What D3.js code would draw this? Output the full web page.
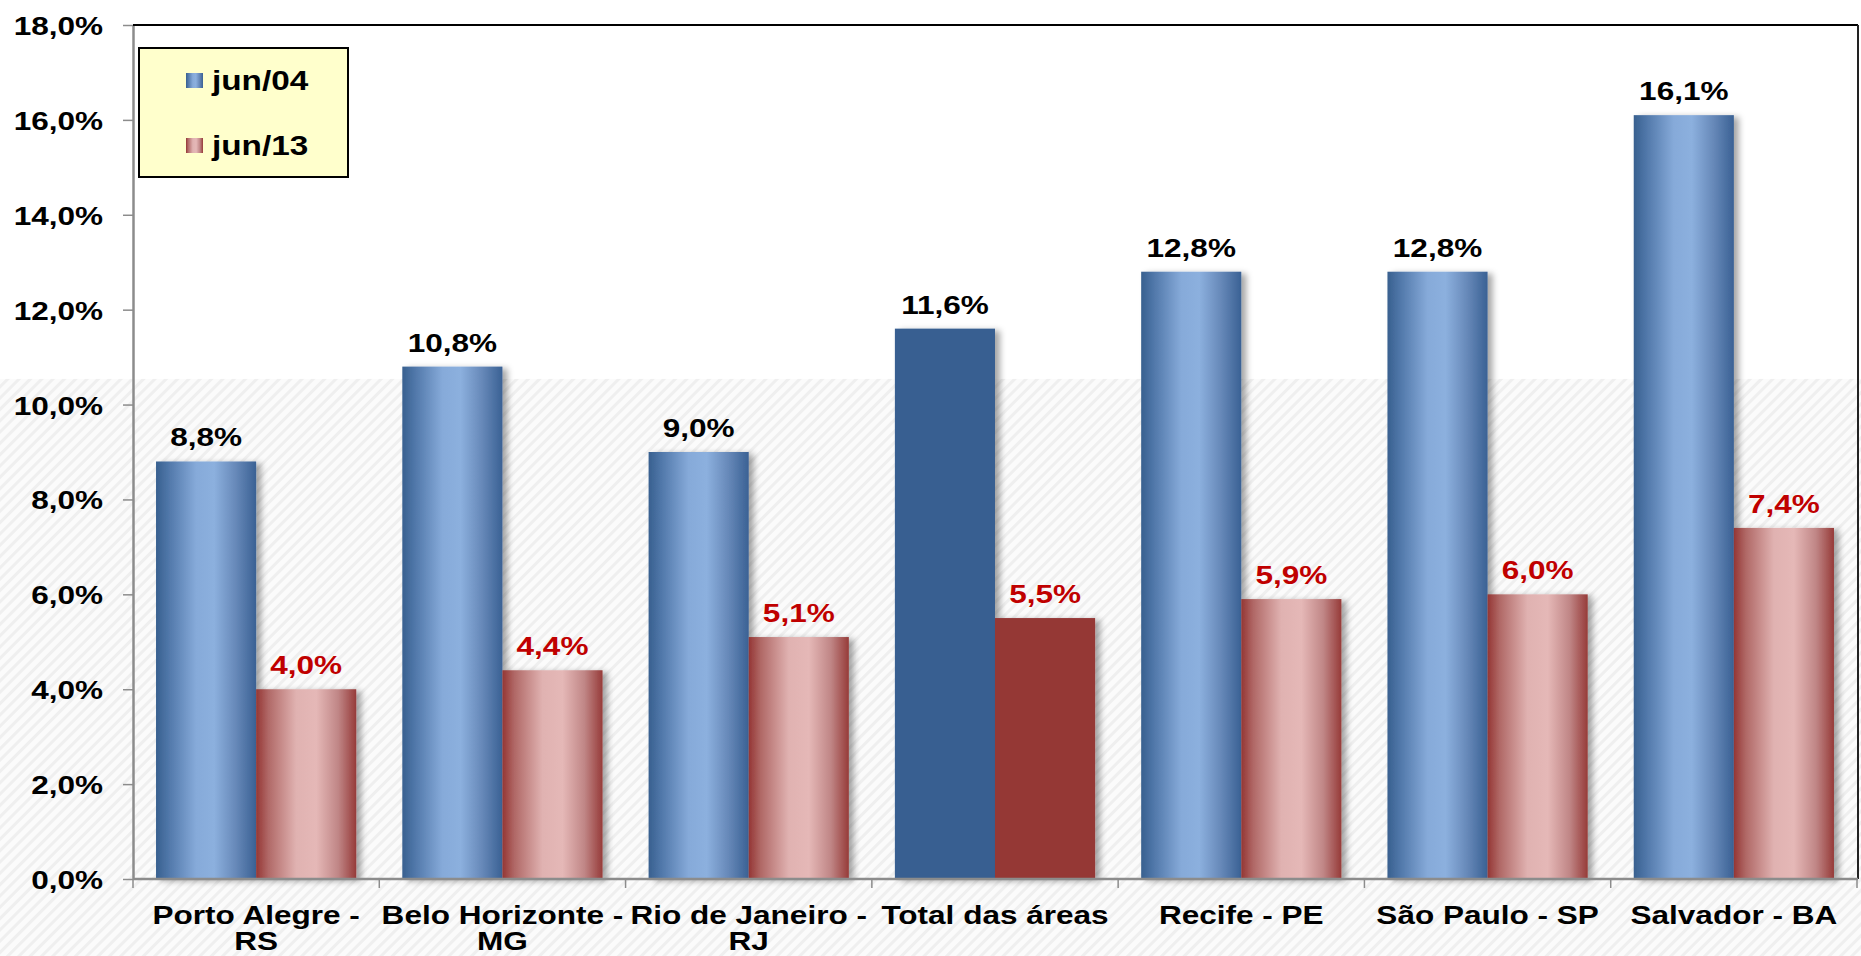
<!DOCTYPE html>
<html>
<head>
<meta charset="utf-8">
<script src="https://cdn.jsdelivr.net/npm/d3@7"></script>
<style>
  html, body { margin: 0; padding: 0; background: #fff; }
  svg { display: block; }
  text { font-family: "Liberation Sans", Arial, sans-serif; font-weight: bold; }
</style>
</head>
<body>
<svg id="chart" width="1861" height="956"></svg>
<script>
// ---- data ----
const categories = ["Porto Alegre - RS", "Belo Horizonte - MG", "Rio de Janeiro - RJ", "Total das áreas", "Recife - PE", "São Paulo - SP", "Salvador - BA"];
const seriesNames = ["jun/04", "jun/13"];
const jun04 = [8.8, 10.8, 9.0, 11.6, 12.8, 12.8, 16.1];
const jun13 = [4.0, 4.4, 5.1, 5.5, 5.9, 6.0, 7.4];
const highlighted = ["Total das áreas"];
const yTicks = [0, 2, 4, 6, 8, 10, 12, 14, 16, 18];

// ---- layout ----
const W = 1861, H = 956;
const mLeft = 133, mRight = 1857, mTop = 25, mBottom = 879;
const stretch = 1.19;
const fontSize = 26.5;

const svg = d3.select("#chart");
const defs = svg.append("defs");

// gradients
function hGrad(id, stops) {
  const g = defs.append("linearGradient").attr("id", id)
    .attr("x1", "0%").attr("x2", "100%").attr("y1", "0%").attr("y2", "0%");
  stops.forEach(([o, c]) => g.append("stop").attr("offset", o).attr("stop-color", c));
}
hGrad("gBlue", [["0%", "#38608f"], ["12%", "#4f76a8"], ["40%", "#86aad9"], ["58%", "#8cb0de"], ["80%", "#6688b8"], ["100%", "#3a6194"]]);
hGrad("gRed", [["0%", "#943634"], ["12%", "#b06866"], ["40%", "#e0b2b1"], ["60%", "#e5b8b7"], ["82%", "#c08686"], ["100%", "#963b39"]]);

// hatch pattern
const pat = defs.append("pattern").attr("id", "hatch")
  .attr("patternUnits", "userSpaceOnUse").attr("width", 8).attr("height", 8)
  .attr("patternTransform", "rotate(45)");
pat.append("rect").attr("width", 8).attr("height", 8).attr("fill", "#fbfbfb");
pat.append("rect").attr("width", 3).attr("height", 8).attr("fill", "#efefef");

// shadow filter
const f = defs.append("filter").attr("id", "shadow")
  .attr("x", "-20%").attr("y", "-5%").attr("width", "150%").attr("height", "115%");
f.append("feDropShadow").attr("dx", 5).attr("dy", 2).attr("stdDeviation", 3)
  .attr("flood-color", "#000").attr("flood-opacity", 0.35);

// background
svg.append("rect").attr("width", W).attr("height", H).attr("fill", "#fff");

// scales
const y = d3.scaleLinear().domain([0, 18]).range([mBottom, mTop]);
const x = d3.scaleBand().domain(categories).range([mLeft, mRight])
  .paddingInner(0.187).paddingOuter(0.0935);
const xs = d3.scaleBand().domain(seriesNames).range([0, x.bandwidth()]);

// hatch band across lower part
svg.append("rect").attr("x", 0).attr("y", y(10.54)).attr("width", W).attr("height", H - y(10.54))
  .attr("fill", "url(#hatch)");

const locale = d3.formatLocale({ decimal: ",", thousands: ".", grouping: [3], currency: ["R$", ""] });
const fmt = v => locale.format(".1f")(v) + "%";

// bars
const rows = categories.map((c, i) => ({ c, vals: [jun04[i], jun13[i]] }));
const groups = svg.append("g").selectAll("g").data(rows).join("g")
  .attr("transform", d => `translate(${x(d.c)},0)`);

groups.each(function (d) {
  const g = d3.select(this);
  const hl = highlighted.includes(d.c);
  d.vals.forEach((v, si) => {
    const fill = si === 0 ? (hl ? "#375f91" : "url(#gBlue)") : (hl ? "#953735" : "url(#gRed)");
    g.append("rect")
      .attr("x", xs(seriesNames[si]))
      .attr("y", y(v))
      .attr("width", xs.bandwidth())
      .attr("height", y(0) - y(v))
      .attr("fill", fill)
      .attr("filter", "url(#shadow)");
  });
  d.vals.forEach((v, si) => {
    g.append("text")
      .attr("transform", `translate(${xs(seriesNames[si]) + xs.bandwidth() / 2},${y(v) - 15}) scale(${stretch},1)`)
      .attr("text-anchor", "middle")
      .attr("font-size", fontSize)
      .attr("fill", si === 0 ? "#000" : "#c00000")
      .text(fmt(v));
  });
});

// y axis
const yAxis = d3.axisLeft(y).tickValues(yTicks).tickSize(10).tickSizeOuter(0).tickFormat(fmt);
const ya = svg.append("g").attr("transform", `translate(${mLeft},0)`).call(yAxis);
ya.select(".domain").attr("stroke", "#8c8c8c").attr("stroke-width", 2.5);
ya.selectAll(".tick line").attr("stroke", "#8c8c8c").attr("stroke-width", 1.5);
ya.selectAll(".tick text")
  .attr("x", null).attr("dy", null)
  .attr("transform", `translate(-30,9.5) scale(${stretch},1)`)
  .attr("font-size", fontSize).attr("font-family", "Liberation Sans, Arial, sans-serif")
  .attr("font-weight", "bold").attr("fill", "#000");

// frame top & right
svg.append("line").attr("x1", mLeft).attr("x2", mRight + 1).attr("y1", mTop).attr("y2", mTop)
  .attr("stroke", "#000").attr("stroke-width", 2);
svg.append("line").attr("x1", mRight + 1).attr("x2", mRight + 1).attr("y1", mTop).attr("y2", mBottom)
  .attr("stroke", "#222").attr("stroke-width", 2);

// x axis
svg.append("line").attr("x1", mLeft).attr("x2", mRight + 1).attr("y1", mBottom).attr("y2", mBottom)
  .attr("stroke", "#8c8c8c").attr("stroke-width", 2.5);
const bounds = categories.map(c => x(c) - x.paddingOuter() * x.step()).concat([mRight]);
svg.append("g").selectAll("line").data(bounds).join("line")
  .attr("x1", d => d).attr("x2", d => d).attr("y1", mBottom).attr("y2", mBottom + 9)
  .attr("stroke", "#8c8c8c").attr("stroke-width", 1.5);

// category labels
function wrap(name) {
  if (name.length > 15) {
    const k = name.lastIndexOf("-");
    return [name.slice(0, k + 1), name.slice(k + 1).trim()];
  }
  return [name];
}
const cl = svg.append("g").selectAll("g").data(categories).join("g")
  .attr("transform", d => `translate(${x(d) + x.bandwidth() / 2},0)`);
cl.each(function (d) {
  const g = d3.select(this);
  wrap(d).forEach((line, li) => {
    g.append("text")
      .attr("transform", `translate(0,${924 + li * 26}) scale(${stretch},1)`)
      .attr("text-anchor", "middle")
      .attr("font-size", fontSize)
      .attr("fill", "#000")
      .text(line);
  });
});

// legend
const lg = svg.append("g");
lg.append("rect").attr("x", 139).attr("y", 48).attr("width", 209).attr("height", 129)
  .attr("fill", "#ffffcc").attr("stroke", "#000").attr("stroke-width", 2);
const legendFills = ["url(#gBlue)", "url(#gRed)"];
seriesNames.forEach((s, i) => {
  const cy = 81 + i * 65;
  lg.append("rect").attr("x", 186).attr("y", cy - 8).attr("width", 17).attr("height", 15)
    .attr("fill", legendFills[i]);
  lg.append("text")
    .attr("transform", `translate(212,${cy + 9}) scale(${stretch},1)`)
    .attr("font-size", 28).attr("fill", "#000")
    .text(s);
});
</script>
</body>
</html>
